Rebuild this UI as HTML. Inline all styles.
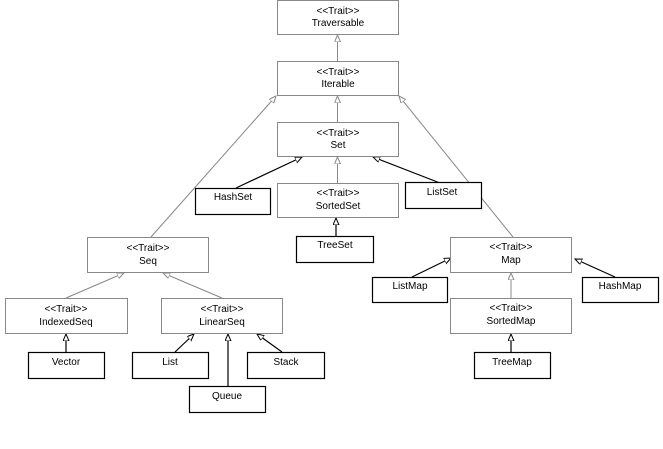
<!DOCTYPE html>
<html><head><style>
html,body{margin:0;padding:0;background:#fff;width:663px;height:449px;overflow:hidden}
text{font-family:"Liberation Sans",Arial,sans-serif;font-size:10px;fill:#000;text-anchor:middle}
</style></head><body>
<svg width="663" height="449" viewBox="0 0 663 449" xmlns="http://www.w3.org/2000/svg">
<defs>
<marker id="ag" markerWidth="8" markerHeight="8" refX="7" refY="3" orient="auto" markerUnits="userSpaceOnUse">
<path d="M0,0 L7,3 L0,6 Z" fill="#fff" stroke="#888" stroke-width="1"/></marker>
<marker id="ab" markerWidth="8" markerHeight="8" refX="7" refY="3" orient="auto" markerUnits="userSpaceOnUse">
<path d="M0,0 L7,3 L0,6 Z" fill="#fff" stroke="#000" stroke-width="1"/></marker>
</defs>
<g stroke="#888" stroke-width="1" fill="none">
<line x1="337.5" y1="61" x2="337.5" y2="35" marker-end="url(#ag)"/>
<line x1="337.5" y1="122" x2="337.5" y2="96" marker-end="url(#ag)"/>
<line x1="337.5" y1="183" x2="337.5" y2="157" marker-end="url(#ag)"/>
<line x1="151" y1="237" x2="276" y2="96" marker-end="url(#ag)"/>
<line x1="513" y1="237" x2="399" y2="96" marker-end="url(#ag)"/>
<line x1="66" y1="298" x2="124" y2="273" marker-end="url(#ag)"/>
<line x1="222" y1="298" x2="163" y2="273" marker-end="url(#ag)"/>
<line x1="511" y1="298" x2="511" y2="273" marker-end="url(#ag)"/>
</g>
<g stroke="#000" stroke-width="1.2" fill="none">
<line x1="236" y1="188" x2="302" y2="157" marker-end="url(#ab)"/>
<line x1="440" y1="183" x2="373" y2="157" marker-end="url(#ab)"/>
<line x1="336" y1="236" x2="336" y2="218" marker-end="url(#ab)"/>
<line x1="66" y1="352" x2="66" y2="334" marker-end="url(#ab)"/>
<line x1="175" y1="352" x2="194" y2="334" marker-end="url(#ab)"/>
<line x1="228" y1="386" x2="228" y2="334" marker-end="url(#ab)"/>
<line x1="282" y1="352" x2="257" y2="334" marker-end="url(#ab)"/>
<line x1="412" y1="277" x2="451" y2="258" marker-end="url(#ab)"/>
<line x1="615" y1="277" x2="575" y2="259" marker-end="url(#ab)"/>
<line x1="511" y1="352" x2="511" y2="334" marker-end="url(#ab)"/>
</g>
<g fill="#fff" stroke="#888" stroke-width="1">
<rect x="277.5" y="0.5" width="121" height="34"/>
<rect x="277.5" y="61.5" width="121" height="34"/>
<rect x="277.5" y="122.5" width="121" height="34"/>
<rect x="277.5" y="183.5" width="121" height="34"/>
<rect x="87.5" y="237.5" width="121" height="35"/>
<rect x="5.5" y="298.5" width="122" height="35"/>
<rect x="161.5" y="298.5" width="121" height="35"/>
<rect x="450.5" y="237.5" width="121" height="35"/>
<rect x="450.5" y="298.5" width="121" height="35"/>
</g>
<g fill="#fff" stroke="#000" stroke-width="1.2">
<rect x="195.5" y="188.5" width="75" height="26"/>
<rect x="405.5" y="182.5" width="76" height="26"/>
<rect x="296.5" y="236.5" width="77" height="26"/>
<rect x="28.5" y="352.5" width="76" height="26"/>
<rect x="132.5" y="352.5" width="76" height="26"/>
<rect x="247.5" y="352.5" width="77" height="26"/>
<rect x="189.5" y="386.5" width="76" height="26"/>
<rect x="372.5" y="277.5" width="75" height="25"/>
<rect x="582.5" y="277.5" width="76" height="25"/>
<rect x="474.5" y="352.5" width="76" height="26"/>
</g>
<text x="338" y="14">&lt;&lt;Trait&gt;&gt;</text><text x="338" y="26">Traversable</text>
<text x="338" y="75">&lt;&lt;Trait&gt;&gt;</text><text x="338" y="87">Iterable</text>
<text x="338" y="136">&lt;&lt;Trait&gt;&gt;</text><text x="338" y="148">Set</text>
<text x="338" y="196">&lt;&lt;Trait&gt;&gt;</text><text x="338" y="209">SortedSet</text>
<text x="148" y="251">&lt;&lt;Trait&gt;&gt;</text><text x="148" y="264">Seq</text>
<text x="66" y="312">&lt;&lt;Trait&gt;&gt;</text><text x="66" y="325">IndexedSeq</text>
<text x="222" y="312">&lt;&lt;Trait&gt;&gt;</text><text x="222" y="325">LinearSeq</text>
<text x="511" y="250">&lt;&lt;Trait&gt;&gt;</text><text x="511" y="263">Map</text>
<text x="511" y="311">&lt;&lt;Trait&gt;&gt;</text><text x="511" y="324">SortedMap</text>
<text x="233" y="200">HashSet</text>
<text x="442" y="195">ListSet</text>
<text x="335" y="248">TreeSet</text>
<text x="66" y="365">Vector</text>
<text x="170" y="365">List</text>
<text x="286" y="365">Stack</text>
<text x="227" y="399">Queue</text>
<text x="410" y="289">ListMap</text>
<text x="620" y="289">HashMap</text>
<text x="512" y="365">TreeMap</text>
</svg>
</body></html>
